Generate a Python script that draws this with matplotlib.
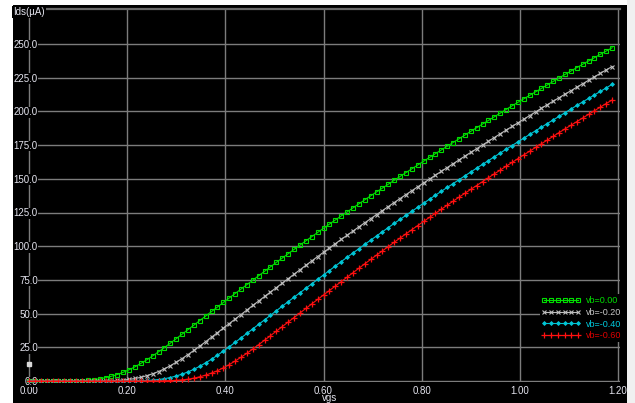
import numpy as np
import matplotlib
matplotlib.use("Agg")
import matplotlib.pyplot as plt
from matplotlib.patches import Rectangle

# Drain current Ids (uA) versus gate voltage vgs for four bulk biases
vgs = np.linspace(0.0, 1.188, 100)

ids_vb000 = [0.00, 0.00, 0.00, 0.01, 0.02, 0.03, 0.06, 0.10, 0.18, 0.34,
             0.55, 1.00, 1.58, 2.42, 3.54, 4.80, 6.48, 8.34, 10.56, 13.06,
             15.70, 18.64, 21.66, 24.84, 28.10, 31.40, 34.76, 38.12, 41.48, 44.84,
             48.20, 51.56, 54.92, 58.28, 61.60, 64.90, 68.20, 71.50, 74.80, 78.10,
             81.40, 84.70, 87.98, 91.22, 94.42, 97.60, 100.78, 103.94, 107.06, 110.18,
             113.30, 116.36, 119.40, 122.40, 125.40, 128.40, 131.40, 134.38, 137.32, 140.22,
             143.10, 145.98, 148.86, 151.74, 154.58, 157.40, 160.22, 163.04, 165.86, 168.64,
             171.40, 174.16, 176.92, 179.68, 182.44, 185.20, 187.90, 190.60, 193.30, 196.00,
             198.70, 201.40, 204.08, 206.72, 209.32, 211.90, 214.48, 217.06, 219.64, 222.22,
             224.80, 227.38, 229.94, 232.46, 234.94, 237.40, 239.86, 242.32, 244.78, 247.20]

ids_vb020 = [0.00, 0.00, 0.00, 0.00, 0.00, 0.00, 0.00, 0.00, 0.00, 0.01,
             0.02, 0.04, 0.07, 0.13, 0.20, 0.41, 0.70, 1.15, 1.86, 2.70,
             3.96, 5.36, 7.04, 9.08, 11.30, 13.94, 16.68, 19.62, 22.72, 25.90,
             29.20, 32.52, 35.88, 39.24, 42.60, 45.96, 49.32, 52.68, 56.04, 59.40,
             62.70, 66.00, 69.30, 72.60, 75.90, 79.20, 82.50, 85.80, 89.06, 92.30,
             95.48, 98.66, 101.84, 105.02, 108.10, 111.22, 114.32, 117.38, 120.40, 123.40,
             126.40, 129.40, 132.40, 135.36, 138.30, 141.18, 144.06, 146.94, 149.82, 152.70,
             155.52, 158.34, 161.16, 163.98, 166.80, 169.56, 172.32, 175.08, 177.84, 180.60,
             183.36, 186.10, 188.80, 191.50, 194.20, 196.90, 199.60, 202.30, 204.96, 207.60,
             210.18, 212.76, 215.34, 217.92, 220.50, 223.08, 225.66, 228.24, 230.78, 233.30]

ids_vb040 = [0.00, 0.00, 0.00, 0.00, 0.00, 0.00, 0.00, 0.00, 0.00, 0.00,
             0.00, 0.00, 0.00, 0.00, 0.01, 0.02, 0.04, 0.07, 0.12, 0.19,
             0.38, 0.62, 1.08, 1.72, 2.56, 3.75, 5.08, 6.76, 8.71, 10.93,
             13.50, 16.19, 19.13, 22.19, 25.37, 28.65, 31.96, 35.32, 38.68, 42.04,
             45.40, 48.76, 52.12, 55.48, 58.84, 62.15, 65.45, 68.75, 72.05, 75.35,
             78.65, 81.95, 85.25, 88.52, 91.76, 94.95, 98.13, 101.31, 104.46, 107.58,
             110.70, 113.81, 116.87, 119.90, 122.90, 125.90, 128.90, 131.90, 134.87, 137.81,
             140.70, 143.60, 146.40, 149.30, 152.20, 155.00, 157.90, 160.70, 163.50, 166.30,
             169.10, 171.90, 174.60, 177.40, 180.10, 182.90, 185.60, 188.30, 191.00, 193.70,
             196.30, 199.00, 201.70, 204.40, 207.00, 209.60, 212.20, 214.80, 217.40, 220.10]

ids_vb060 = [0.00, 0.00, 0.00, 0.00, 0.00, 0.00, 0.00, 0.00, 0.00, 0.00,
             0.00, 0.00, 0.00, 0.00, 0.00, 0.00, 0.00, 0.00, 0.01, 0.01,
             0.03, 0.05, 0.08, 0.15, 0.27, 0.48, 0.85, 1.30, 2.14, 3.12,
             4.38, 5.92, 7.60, 9.82, 12.18, 14.82, 17.66, 20.60, 23.78, 27.00,
             30.30, 33.64, 37.00, 40.36, 43.72, 47.08, 50.44, 53.80, 57.16, 60.50,
             63.80, 67.10, 70.40, 73.70, 77.00, 80.30, 83.60, 86.90, 90.14, 93.36,
             96.54, 99.72, 102.90, 106.02, 109.14, 112.26, 115.34, 118.40, 121.40, 124.40,
             127.40, 130.40, 133.40, 136.34, 139.26, 142.14, 145.02, 147.90, 150.78, 153.64,
             156.46, 159.28, 162.10, 164.92, 167.72, 170.48, 173.24, 176.00, 178.76, 181.52,
             184.28, 187.00, 189.70, 192.40, 195.10, 197.80, 200.50, 203.20, 205.84, 208.46]

series_labels = ["vb=0.00", "vb=-0.20", "vb=-0.40", "vb=-0.60"]
x_ticks = [0.0, 0.2, 0.4, 0.6, 0.8, 1.0, 1.2]
x_tick_labels = ["0.00", "0.20", "0.40", "0.60", "0.80", "1.00", "1.20"]
y_ticks = [0, 25, 50, 75, 100, 125, 150, 175, 200, 225, 250]
y_tick_labels = ["0.0", "25.0", "50.0", "75.0", "100.0", "125.0", "150.0",
                 "175.0", "200.0", "225.0", "250.0"]
cursor_point = (0.0, 12.5)

plt.rcParams["font.family"] = ["Liberation Sans", "DejaVu Sans"]

W, H = 635, 403
fig = plt.figure(figsize=(W / 100, H / 100), dpi=100, facecolor="white")

# black display panel
fig.add_artist(Rectangle((13 / W, 0), (627 - 13) / W, (403 - 5) / H,
                         transform=fig.transFigure, facecolor="black",
                         edgecolor="none", zorder=-10))

xlim = (-0.005, 1.205)
ylim = (-1.0, 276.0)
px_x = (618 - 29) / 1.2
px_y = (381 - 44) / 250.0
left_px = 29 + xlim[0] * px_x
right_px = 29 + xlim[1] * px_x
bottom_px = 381 - ylim[0] * px_y
top_px = 381 - ylim[1] * px_y
ax = fig.add_axes([left_px / W, (H - bottom_px) / H,
                   (right_px - left_px) / W, (bottom_px - top_px) / H])
ax.set_facecolor("none")
ax.set_xlim(*xlim)
ax.set_ylim(*ylim)

grid_col = "#7c7c7c"
text_col = "#e4e4ee"
ax.set_xticks(x_ticks, x_tick_labels)
ax.set_yticks(y_ticks, y_tick_labels)
ax.grid(True, color=grid_col, linewidth=1.0)
ax.tick_params(axis="both", length=0, labelsize=7, labelcolor=text_col)
ax.tick_params(axis="x", pad=2.3)
ax.tick_params(axis="y", pad=-8.2)
for lbl in ax.get_yticklabels():
    lbl.set_bbox(dict(facecolor="black", edgecolor="none", pad=0.3))
for name in ("left", "right", "bottom"):
    ax.spines[name].set_visible(False)
ax.spines["top"].set_color("#6a6a6a")
ax.spines["top"].set_linewidth(1.6)

ax.set_xlabel("vgs", fontsize=7, color=text_col, va="bottom")
ax.xaxis.set_label_coords(330 / W, 0.3 / H, transform=fig.transFigure)

styles = [
    dict(color="#00e000", marker="s", ms=3.0, mfc="none", mew=0.8),
    dict(color="#bdbdbd", marker="x", ms=3.2, mew=0.8),
    dict(color="#00c4d4", marker="D", ms=2.0, mew=0.6),
    dict(color="#ff1010", marker="+", ms=4.5, mew=0.9),
]
label_colors = ["#00e000", "#c8c8c8", "#00cce0", "#e00000"]
handles = []
for ids, lab, st in zip([ids_vb000, ids_vb020, ids_vb040, ids_vb060],
                        series_labels, styles):
    ln, = ax.plot(vgs, ids, lw=0.8, label=lab, zorder=3, **st)
    handles.append(ln)

ax.plot([cursor_point[0]], [cursor_point[1]], "s", color="#d8d8d8",
        ms=3.0, zorder=4, clip_on=False)

leg = ax.legend(handles=handles, loc="upper left",
                bbox_to_anchor=(539.5 / W, (H - 294.0) / H),
                bbox_transform=fig.transFigure, borderaxespad=0,
                borderpad=0.2, numpoints=6, handlelength=4.4,
                handletextpad=0.5, labelspacing=0.32, fontsize=6.5,
                labelcolor=label_colors, facecolor="black",
                edgecolor="none", framealpha=1.0, fancybox=False)
leg.set_zorder(6)

fig.text(13 / W, 1 - 12 / H, "Ids(\u00b5A)", fontsize=7, color=text_col,
         ha="left", va="center", zorder=8,
         bbox=dict(facecolor="black", edgecolor="none", pad=0.8))

# light frame strip on the right edge
fig.add_artist(Rectangle((627 / W, 0), 8 / W, 1, transform=fig.transFigure,
                         facecolor="#f0f0f0", edgecolor="none", zorder=20))

fig.savefig("out.png", dpi=100, facecolor="white")
